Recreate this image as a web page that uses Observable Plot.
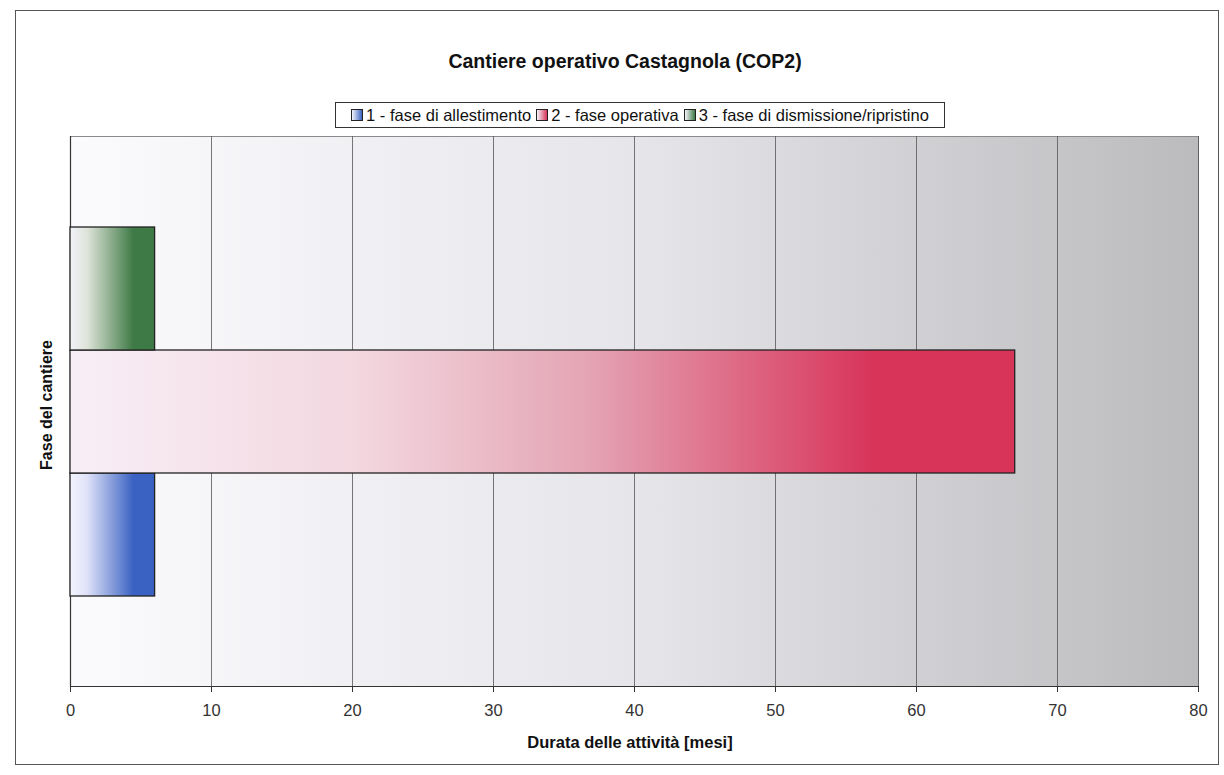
<!DOCTYPE html>
<html>
<head>
<meta charset="utf-8">
<script src="https://cdn.jsdelivr.net/npm/d3@7"></script>
<script src="https://cdn.jsdelivr.net/npm/@observablehq/plot@0.6"></script>
<style>
  html, body { margin: 0; padding: 0; background: #fff; }
  body { width: 1224px; height: 775px; position: relative; overflow: hidden;
         font-family: "Liberation Sans", Arial, sans-serif; color: #111; }
  #cornice { position: absolute; left: 15px; top: 10px; width: 1204px; height: 755px;
             border: 1.5px solid #555; box-sizing: border-box; }
  #titolo { position: absolute; left: 0; width: 1250px; top: 50px; text-align: center;
            font-weight: bold; font-size: 19.5px; }
  #legenda { position: absolute; left: 335px; top: 102px; width: 610px; height: 26px;
             border: 1px solid #333; background: #fff; box-sizing: border-box;
             display: flex; align-items: center; justify-content: center; gap: 5px; font-size: 16.5px; }
  #legenda .voce { display: flex; align-items: center; gap: 3px; white-space: nowrap; }
  #legenda .campione { width: 10px; height: 10px; border: 1px solid #222; }
  #grafico { position: absolute; left: 0; top: 128px; }
  #titoloX { position: absolute; left: 0; width: 1260px; top: 733px; text-align: center;
             font-weight: bold; font-size: 16.5px; }
  #titoloY { position: absolute; left: 47px; top: 405px; transform: translate(-50%, -50%) rotate(-90deg);
             font-weight: bold; font-size: 16px; white-space: nowrap; }
</style>
</head>
<body>
<div id="cornice"></div>
<div id="titolo">Cantiere operativo Castagnola (COP2)</div>
<div id="legenda"></div>
<div id="grafico"></div>
<div id="titoloX">Durata delle attività [mesi]</div>
<div id="titoloY">Fase del cantiere</div>
<script>
// Fasi del cantiere e durata di ciascuna (mesi)
const fasi = ["1 - fase di allestimento", "2 - fase operativa", "3 - fase di dismissione/ripristino"];
const durate = [6, 67, 6];
const ticksX = [0, 10, 20, 30, 40, 50, 60, 70, 80];

// Colori finali dei riempimenti sfumati (da bianco al colore pieno)
const coloriFase = ["#3a62c2", "#d8345a", "#3e7a45"];
const idSfumature = ["sf-fase1", "sf-fase2", "sf-fase3"];

const dati = fasi.map((fase, i) => ({fase, durata: durate[i]}));

const grafico = Plot.plot({
  width: 1224,
  height: 640,
  marginLeft: 70,
  marginRight: 26,
  marginTop: 8,
  marginBottom: 82,
  style: {fontFamily: "Liberation Sans, Arial, sans-serif", color: "#333", background: "transparent"},
  x: {domain: [0, 80], label: null},
  y: {domain: [...fasi].reverse(), paddingInner: 0, paddingOuter: 0.735, axis: null},
  color: {domain: fasi, range: idSfumature.map(id => `url(#${id})`)},
  marks: [
    Plot.frame({fill: "url(#sf-sfondo)", stroke: "#8a8a8a"}),
    Plot.gridX(ticksX, {stroke: "#555", strokeOpacity: 1, strokeWidth: 0.8}),
    Plot.ruleX([0], {stroke: "#333", strokeWidth: 1.2}),
    Plot.frame({anchor: "bottom", stroke: "#333", strokeWidth: 1.2}),
    Plot.barX(dati, {y: "fase", x: "durata", fill: "fase", stroke: "#222", strokeWidth: 1.3}),
    Plot.axisX(ticksX, {tickSize: 6, tickPadding: 12, fontSize: 16.5, label: null, stroke: "#333"})
  ]
});

// Sfumature orizzontali: sfondo dell'area del grafico e riempimento delle barre
const defs = d3.select(grafico).insert("defs", ":first-child");
function sfumatura(id, stops) {
  const g = defs.append("linearGradient").attr("id", id)
    .attr("x1", 0).attr("y1", 0).attr("x2", 1).attr("y2", 0);
  for (const [o, c] of stops) g.append("stop").attr("offset", o).attr("stop-color", c);
}
sfumatura("sf-sfondo", [[0, "#fbfbfe"], [0.5, "#e6e6ea"], [1, "#bbbbbe"]]);
sfumatura(idSfumature[0], [[0, "#f4f4fd"], [0.2, "#dfe2f8"], [0.75, coloriFase[0]], [1, coloriFase[0]]]);
sfumatura(idSfumature[1], [[0, "#f8eef6"], [0.3, "#f3d8e0"], [0.55, "#e4a4b4"], [0.85, coloriFase[1]], [1, coloriFase[1]]]);
sfumatura(idSfumature[2], [[0, "#f2f2f8"], [0.2, "#dfe4da"], [0.75, coloriFase[2]], [1, coloriFase[2]]]);

document.getElementById("grafico").append(grafico);

// Legenda con campioni sfumati
const legenda = d3.select("#legenda");
fasi.forEach((fase, i) => {
  const voce = legenda.append("div").attr("class", "voce");
  voce.append("div").attr("class", "campione")
    .style("background", `linear-gradient(to right, #f4f4fb, ${coloriFase[i]})`);
  voce.append("span").text(fase);
});
</script>
</body>
</html>
